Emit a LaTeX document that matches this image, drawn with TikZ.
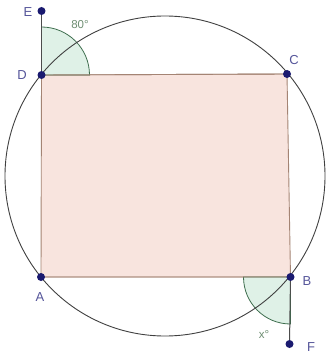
\documentclass[tikz,border=0pt]{standalone}
\usepackage{fontspec}
\setmainfont{Liberation Sans}
\definecolor{dotc}{HTML}{1A1A70}
\definecolor{labc}{HTML}{55559A}
\definecolor{quadfill}{HTML}{F8E4DE}
\definecolor{quaddraw}{HTML}{A48474}
\definecolor{angfill}{HTML}{D8EEE2}
\definecolor{angdraw}{HTML}{3E6E4E}
\definecolor{angtext}{HTML}{6E8E72}
\tikzset{
  pt/.style={circle,fill=dotc,inner sep=0pt,minimum size=8pt},
  lab/.style={text=labc,font=\fontsize{13}{15}\selectfont},
  anglab/.style={text=angtext,font=\fontsize{11.5}{13}\selectfont}
}
\begin{document}
\begin{tikzpicture}[x=1pt,y=-1pt]
\useasboundingbox[fill=white] (0,0) rectangle (328,358);
\coordinate (Dc) at (41.5,75);
\coordinate (Cc) at (287,74);
\coordinate (Bc) at (290.5,277);
\coordinate (Ac) at (41,277);
\coordinate (Ec) at (41.5,11);
\coordinate (Fc) at (289.5,344);
% quadrilateral
\filldraw[fill=quadfill,draw=quaddraw,line width=0.9pt] (Dc) -- (Cc) -- (Bc) -- (Ac) -- cycle;
% angle sectors
\filldraw[fill=angfill,fill opacity=0.8,draw=angdraw,line width=0.8pt]
  (Dc) -- ++(0,-48) arc[start angle=-90,end angle=0,radius=48] -- cycle;
\filldraw[fill=angfill,fill opacity=0.8,draw=angdraw,line width=0.8pt]
  (Bc) -- ++(-47,0) arc[start angle=180,end angle=90,radius=47] -- cycle;
% redraw quad edges over sectors
\draw[quaddraw,line width=0.9pt] (Dc) -- (Cc) (Bc) -- (Ac);
% circle
\node[circle,draw=black!75,line width=0.9pt,minimum size=320pt,inner sep=0pt] (circ) at (165,176) {};
% lines
\draw[black!70,line width=1pt] (Ec) -- (Dc);
\draw[black!70,line width=1pt] (Bc) -- (Fc);
% points
\node[pt] (E) at (Ec) {};
\node[pt] (D) at (Dc) {};
\node[pt] (C) at (Cc) {};
\node[pt] (B) at (Bc) {};
\node[pt] (A) at (Ac) {};
\node[pt] (F) at (Fc) {};
% labels
\node[lab] (lE) at (28,12) {E};
\node[lab] (lD) at (22,75) {D};
\node[lab] (lC) at (294,60) {C};
\node[lab] (lA) at (40,297) {A};
\node[lab] (lB) at (307,281) {B};
\node[lab] (lF) at (311,347) {F};
\node[anglab] (l80) at (80,25) {80°};
\node[anglab] (lx) at (264,334) {x°};
\end{tikzpicture}
\end{document}
